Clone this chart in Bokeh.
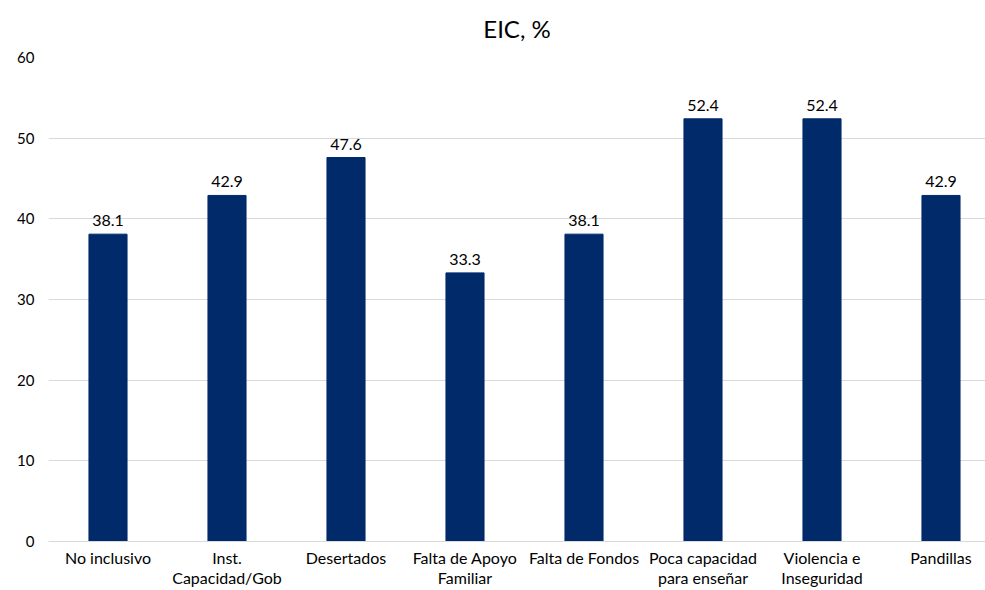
from bokeh.plotting import figure
from bokeh.models import ColumnDataSource, Range1d, FixedTicker, LabelSet
from bokeh.core.properties import value
from bokeh.embed import file_html
from bokeh.resources import INLINE

categories = ["No inclusivo", "Inst.\nCapacidad/Gob", "Desertados", "Falta de Apoyo\nFamiliar",
              "Falta de Fondos", "Poca capacidad\npara enseñar", "Violencia e\nInseguridad", "Pandillas"]
values = [38.1, 42.9, 47.6, 33.3, 38.1, 52.4, 52.4, 42.9]
y_ticks = [0, 10, 20, 30, 40, 50, 60]
title = "EIC, %"

FONT = "Lato"
BAR = "#002A6A"
GRID = "#d9d9d9"

xpos = [i + 0.5 for i in range(len(categories))]
src = ColumnDataSource(dict(x=xpos, top=values, lab=[f"{v:.1f}" for v in values]))

XMAX = 937 / 119
p = figure(width=985, height=590, output_backend="svg", toolbar_location=None,
           x_range=Range1d(0, XMAX), y_range=Range1d(0, 60),
           min_border_left=48, min_border_right=0, min_border_top=57, min_border_bottom=48)

p.vbar(x="x", top="top", width=0.32, source=src, color=BAR)
p.add_layout(LabelSet(x="x", y="top", text="lab", source=src, text_align="center",
                      text_baseline="bottom", y_offset=8, text_font=value(FONT),
                      text_font_size=value("16px"), text_color="#000000"))

p.title.text = title
p.title.align = "center"
p.title.vertical_align = "top"
p.title.text_font = FONT
p.title.text_font_size = "24px"
p.title.text_font_style = "normal"
p.title.text_color = "#000000"
p.title.standoff = 25

p.xaxis.ticker = FixedTicker(ticks=xpos)
p.xaxis.major_label_overrides = {x: c for x, c in zip(xpos, categories)}
p.xaxis.major_label_text_font = FONT
p.xaxis.major_label_text_font_size = "16px"
p.xaxis.major_label_text_line_height = 1.1
p.xaxis.major_label_text_color = "#000000"
p.xaxis.major_tick_line_color = None
p.xaxis.major_tick_out = 0
p.xaxis.major_tick_in = 0
p.xaxis.minor_tick_line_color = None
p.xaxis.minor_tick_out = 0
p.xaxis.axis_line_color = GRID
p.xaxis.major_label_standoff = 6

p.yaxis.ticker = FixedTicker(ticks=y_ticks)
p.yaxis.major_label_text_font = FONT
p.yaxis.major_label_text_font_size = "15px"
p.yaxis.major_label_text_color = "#000000"
p.yaxis.major_tick_line_color = None
p.yaxis.major_tick_out = 0
p.yaxis.major_tick_in = 0
p.yaxis.minor_tick_line_color = None
p.yaxis.minor_tick_out = 0
p.yaxis.axis_line_color = None
p.yaxis.major_label_standoff = 14

p.xgrid.grid_line_color = None
p.ygrid.grid_line_color = GRID
p.outline_line_color = None

open("out.html", "w").write(file_html(p, INLINE))
